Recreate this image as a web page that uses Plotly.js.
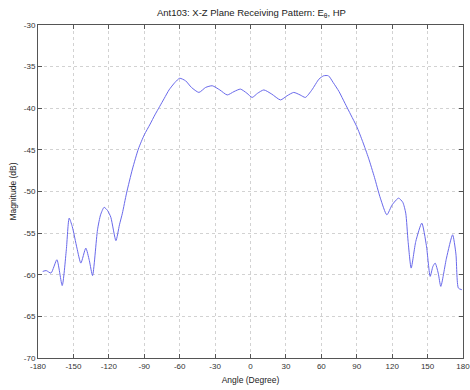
<!DOCTYPE html>
<html>
<head>
<meta charset="utf-8">
<script src="https://cdn.plot.ly/plotly-3.0.1.min.js"></script>
<style>html,body{margin:0;padding:0;background:#fff;}#chart{width:470px;height:390px;}</style>
</head>
<body>
<div id="chart"></div>
<script>
// Receiving pattern samples: angle (degrees) and magnitude (dB)
const angleDeg = [-176, -173, -169, -164, -159.5, -156, -153.6, -151, -147, -143.7, -139.5, -136.5, -133.8, -129.6, -127, -124, -121, -118.3, -114, -111, -108.5, -105, -100, -95, -90, -85, -81, -77, -73, -69, -64, -60, -55, -50, -43.7, -38, -32.4, -26, -19.7, -14, -8.5, -3, 1.4, 6, 11.3, 18, 25.4, 31, 36.6, 42, 46.5, 52, 58, 62, 66, 70, 75, 80, 85, 90, 95, 100, 105, 110, 115.5, 120, 125.4, 129, 131.5, 133.5, 136.1, 140, 145.1, 149, 152.2, 154.5, 156.4, 159, 161.2, 166, 171.2, 174, 176.1, 179];
const magnitudeDb = [-59.6, -59.5, -59.8, -58.2, -61.3, -57.0, -53.2, -54.2, -56.8, -58.6, -56.8, -58.3, -60.1, -54.6, -52.8, -51.9, -52.3, -53.1, -55.9, -54.0, -52.6, -50.2, -47.3, -44.9, -43.2, -41.9, -40.8, -39.8, -38.8, -37.8, -36.9, -36.4, -36.7, -37.5, -38.1, -37.5, -37.3, -37.8, -38.4, -38.0, -37.7, -38.2, -38.7, -38.2, -37.8, -38.3, -39.0, -38.5, -38.1, -38.4, -38.7, -37.8, -36.5, -36.1, -36.1, -36.9, -38.0, -39.4, -40.8, -42.2, -44.0, -46.0, -48.3, -50.8, -52.8, -51.6, -50.8, -51.3, -52.6, -56.0, -59.2, -56.0, -53.8, -56.5, -60.2, -59.0, -58.6, -59.8, -61.4, -58.0, -55.2, -57.5, -61.6, -61.8];

const xTicks = [-180, -150, -120, -90, -60, -30, 0, 30, 60, 90, 120, 150, 180];
const yTicks = [-70, -65, -60, -55, -50, -45, -40, -35, -30];

const textFamily = 'Liberation Sans, Arial, sans-serif';
const tickFont = {family: textFamily, size: 8, color: '#333'};
const labelFont = {family: textFamily, size: 8.5, color: '#222'};

const axisCommon = {
  showline: true, mirror: 'ticks', linecolor: '#555', linewidth: 1,
  ticks: 'inside', ticklen: 4, tickcolor: '#555', tickwidth: 1,
  showgrid: true, gridcolor: '#d2d2d2', griddash: 'dot', gridwidth: 1,
  zeroline: false, tickfont: tickFont, ticklabeloverflow: 'allow'
};

Plotly.newPlot('chart', [{
  x: angleDeg, y: magnitudeDb, type: 'scatter', mode: 'lines',
  line: {color: 'rgb(105,105,235)', width: 1, shape: 'spline', smoothing: 0.6},
  hoverinfo: 'skip'
}], {
  width: 470, height: 390,
  margin: {l: 38, r: 7, t: 25, b: 32},
  paper_bgcolor: '#fff', plot_bgcolor: '#fff',
  showlegend: false,
  title: {
    text: 'Ant103: X-Z Plane Receiving Pattern: E<sub>θ</sub>, HP',
    font: {family: textFamily, size: 9.5, color: '#222'},
    x: 0.535, xanchor: 'center', y: 0.968, yanchor: 'middle'
  },
  xaxis: Object.assign({}, axisCommon, {
    range: [-180, 180], tickvals: xTicks, ticktext: xTicks.map(String),
    title: {text: 'Angle (Degree)', font: labelFont, standoff: 7}
  }),
  yaxis: Object.assign({}, axisCommon, {
    range: [-70, -30], tickvals: yTicks, ticktext: yTicks.map(String),
    title: {text: 'Magnitude (dB)', font: labelFont, standoff: 5}
  })
}, {staticPlot: true});
</script>
</body>
</html>
